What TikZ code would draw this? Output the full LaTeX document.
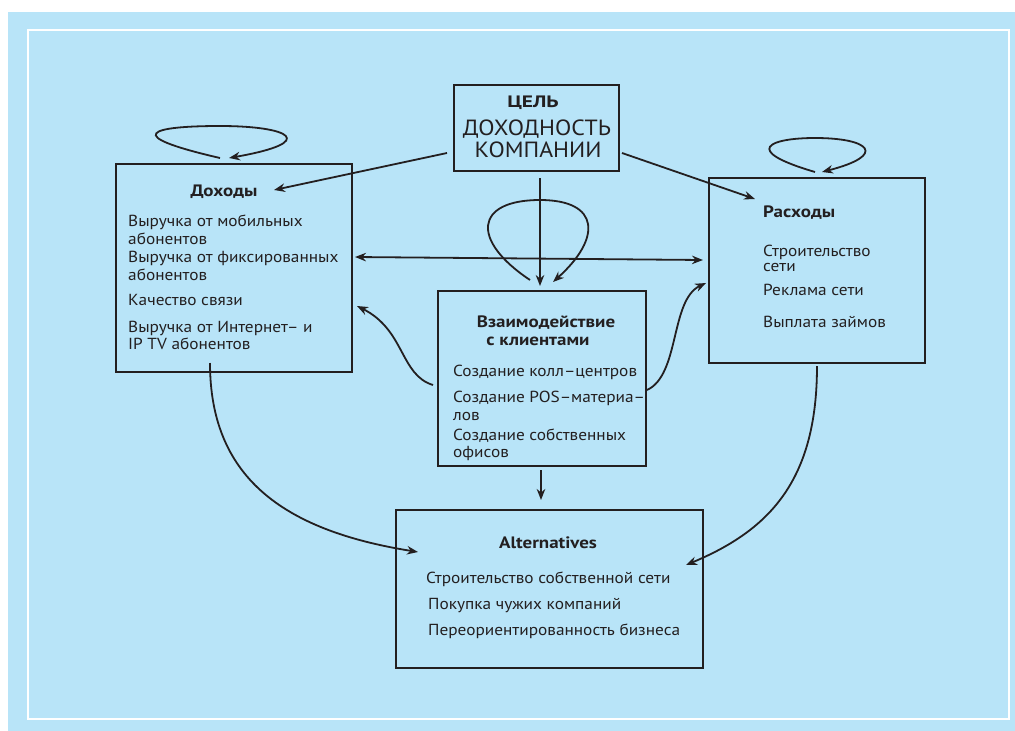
\documentclass[tikz,border=0pt]{standalone}
\usepackage{fontspec}
\setmainfont{PT Sans}[FakeStretch=1.08]
\newfontfamily\headfont{PT Sans}[FakeStretch=1.15]
\newfontfamily\goalfont{PT Sans}[FakeStretch=1.3]
\usetikzlibrary{arrows.meta}
\definecolor{bg}{RGB}{184,228,248}
\definecolor{ink}{RGB}{35,31,32}
\begin{document}
\begin{tikzpicture}[x=1pt,y=-1pt,
  box/.style={draw=ink,line width=2.3pt,inner sep=0pt,anchor=north west},
  item/.style={text=ink,inner sep=0pt,anchor=base west,font=\fontsize{16}{18}\selectfont},
  head/.style={text=ink,inner sep=0pt,anchor=base,font=\headfont\fontsize{16.5}{18}\selectfont\bfseries},
  big/.style={text=ink,inner sep=0pt,anchor=base,font=\fontsize{22}{24}\selectfont},
  link/.style={draw=ink,line width=1.8pt,-{Stealth[length=11pt,width=8.5pt]}},
  both/.style={draw=ink,line width=1.8pt,{Stealth[length=11pt,width=8.5pt]}-{Stealth[length=11pt,width=8.5pt]}}]
\useasboundingbox (0,0) rectangle (1015,731);
% background panel and its white frame
\fill[white] (0,0) rectangle (1015,731);
\fill[bg] (8,12) rectangle (1015,731);
\draw[white,line width=2.5pt] (28,30) rectangle (1009,719);

% boxes
\node[box,minimum width=165pt,minimum height=86pt] (goal) at (453,84) {};
\node[box,minimum width=236pt,minimum height=208pt] (inc) at (115,163) {};
\node[box,minimum width=216pt,minimum height=185pt] (exp) at (708,177) {};
\node[box,minimum width=208pt,minimum height=175pt] (cli) at (437,290) {};
\node[box,minimum width=307pt,minimum height=158pt] (alt) at (395,509) {};

% goal text
\node[head,font=\goalfont\fontsize{16.5}{18}\selectfont\bfseries] (goal-h) at (533,107) {ЦЕЛЬ};
\node[big] (goal-1) at (537,135) {ДОХОДНОСТЬ};
\node[big] (goal-2) at (538,157) {КОМПАНИИ};

% incomes
\node[head] (inc-h) at (224,196) {Доходы};
\node[item] (inc-1) at (128,226) {Выручка от мобильных};
\node[item] (inc-2) at (128,244) {абонентов};
\node[item] (inc-3) at (128,262) {Выручка от фиксированных};
\node[item] (inc-4) at (128,280) {абонентов};
\node[item] (inc-5) at (128,305) {Качество связи};
\node[item] (inc-6) at (128,332) {Выручка от Интернет– и};
\node[item] (inc-7) at (128,349) {IP TV абонентов};

% expenses
\node[head,anchor=base west] (exp-h) at (763,217) {Расходы};
\node[item] (exp-1) at (763,256) {Строительство};
\node[item] (exp-2) at (763,271) {сети};
\node[item] (exp-3) at (763,295) {Реклама сети};
\node[item] (exp-4) at (763,327) {Выплата займов};

% client interaction
\node[head] (cli-h1) at (546,327) {Взаимодействие};
\node[head] (cli-h2) at (538,345) {с клиентами};
\node[item] (cli-1) at (453,376) {Создание колл–центров};
\node[item] (cli-2) at (453,402) {Создание POS–материа–};
\node[item] (cli-3) at (453,420) {лов};
\node[item] (cli-4) at (453,440) {Создание собственных};
\node[item] (cli-5) at (453,457) {офисов};

% alternatives
\node[head] (alt-h) at (548,548) {Alternatives};
\node[item] (alt-1) at (426,583) {Строительство собственной сети};
\node[item] (alt-2) at (428,609) {Покупка чужих компаний};
\node[item] (alt-3) at (428,635) {Переориентированность бизнеса};

% connector end points
\coordinate (g-l) at (447,153);
\coordinate (inc-in) at (274,190);
\coordinate (g-r) at (622,153);
\coordinate (exp-in) at (755,199);
\coordinate (g-b) at (540,178);
\coordinate (cli-t) at (540,286);
\coordinate (inc-r) at (355,257);
\coordinate (exp-l) at (703,260);
\coordinate (cli-l) at (433,385);
\coordinate (inc-r2) at (357,306);
\coordinate (cli-r) at (647,390);
\coordinate (exp-l2) at (706,283);
\coordinate (cli-b) at (541,470);
\coordinate (alt-t) at (541,500);
\coordinate (inc-b) at (210,363);
\coordinate (alt-l) at (418,552);
\coordinate (exp-b) at (817,366);
\coordinate (alt-r) at (686,565);
\coordinate (inc-ls) at (220,158);
\coordinate (inc-le) at (229,158);
\coordinate (exp-ls) at (815,172);
\coordinate (exp-le) at (822,172);
\coordinate (cli-ls) at (530,280);
\coordinate (cli-le) at (553,282);

% connectors
\draw[link] (g-l) -- (inc-in);
\draw[link] (g-r) -- (exp-in);
\draw[link] (g-b) -- (cli-t);
\draw[both] (inc-r) -- (exp-l);
\draw[link] (cli-l) .. controls (400,375) and (405,330) .. (inc-r2);
\draw[link] (cli-r) .. controls (680,375) and (670,300) .. (exp-l2);
\draw[link] (cli-b) -- (alt-t);
\draw[link] (inc-b) .. controls (210,475) and (280,530) .. (alt-l);
\draw[link] (exp-b) .. controls (817,480) and (770,530) .. (alt-r);

% feedback loops
\draw[link] (inc-ls) .. controls (120,135) and (150,126) .. (220,126)
  .. controls (290,126) and (320,142) .. (inc-le);
\draw[link] (exp-ls) .. controls (740,150) and (770,138) .. (815,138)
  .. controls (870,138) and (888,155) .. (exp-le);
\draw[link] (cli-ls) .. controls (470,240) and (475,200) .. (540,200)
  .. controls (600,200) and (602,238) .. (cli-le);
\end{tikzpicture}
\end{document}
